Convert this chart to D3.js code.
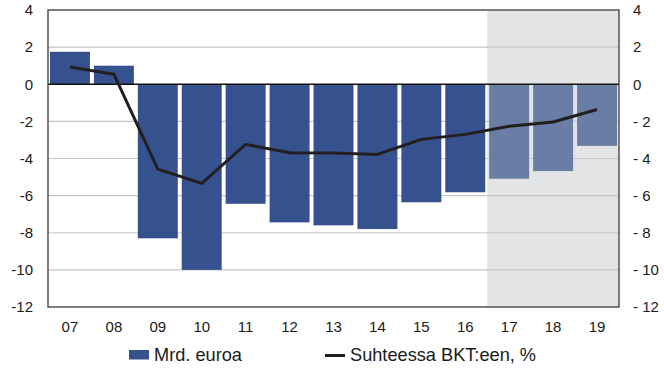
<!DOCTYPE html>
<html>
<head>
<meta charset="utf-8">
<script src="https://cdn.jsdelivr.net/npm/d3@7"></script>
<style>
  html, body { margin: 0; padding: 0; background: #fff; }
  svg { display: block; font-family: "Liberation Sans", Arial, sans-serif; }
</style>
</head>
<body>
<svg id="chart" width="664" height="368"></svg>
<script>
// Years shown on the x axis
const years = ["07", "08", "09", "10", "11", "12", "13", "14", "15", "16", "17", "18", "19"];
// Balance in billions of euros (bars)
const balanceBn = [1.75, 1.0, -8.3, -10.0, -6.44, -7.44, -7.6, -7.8, -6.36, -5.82, -5.09, -4.68, -3.32];
// Balance relative to GDP, % (line)
const balancePct = [0.93, 0.54, -4.57, -5.34, -3.24, -3.69, -3.71, -3.78, -2.97, -2.7, -2.26, -2.03, -1.36];
// First forecast year
const forecastFrom = "17";
// Axis ticks
const leftTicks = [4, 2, 0, -2, -4, -6, -8, -10, -12];
const rightTicks = [4, 2, 0, -2, -4, -6, -8, -10, -12];
// Legend texts
const legendLabels = ["Mrd. euroa", "Suhteessa BKT:een, %"];

const svg = d3.select("#chart");
const m = { left: 48, right: 619, top: 10, bottom: 307 };

const x = d3.scaleBand().domain(years).range([m.left, m.right]).paddingInner(0.09).paddingOuter(0.045);
const xc = d3.scaleBand().domain(years).range([m.left, m.right]);
const y = d3.scaleLinear().domain([-12, 4]).range([m.bottom, m.top]);
const yR = d3.scaleLinear().domain([-12, 4]).range([m.bottom, m.top]);

const navy = "#36528e";
const navyLight = "#6a7ea5";
const fIdx = years.indexOf(forecastFrom);
const fontFam = "'Liberation Sans', Arial, sans-serif";

// Forecast shading
svg.append("rect")
  .attr("x", xc(forecastFrom)).attr("y", m.top)
  .attr("width", m.right - xc(forecastFrom)).attr("height", m.bottom - m.top)
  .attr("fill", "#e3e4e6");

// Horizontal gridlines
svg.append("g").selectAll("line").data(leftTicks.filter(t => t !== 0 && t !== 4 && t !== -12))
  .join("line")
  .attr("x1", m.left).attr("x2", m.right)
  .attr("y1", d => y(d)).attr("y2", d => y(d))
  .attr("stroke", "#c6c6c6").attr("stroke-width", 1.2);

// Bars
svg.append("g").selectAll("rect").data(years)
  .join("rect")
  .attr("x", d => x(d))
  .attr("width", x.bandwidth())
  .attr("y", (d, i) => y(Math.max(0, balanceBn[i])))
  .attr("height", (d, i) => Math.abs(y(balanceBn[i]) - y(0)))
  .attr("fill", (d, i) => i >= fIdx ? navyLight : navy);

// Zero line
svg.append("line")
  .attr("x1", m.left).attr("x2", m.right)
  .attr("y1", y(0)).attr("y2", y(0))
  .attr("stroke", "#111").attr("stroke-width", 1.3);

// Line series (right axis)
const line = d3.line()
  .x((d, i) => xc(years[i]) + xc.bandwidth() / 2)
  .y(d => yR(d));
svg.append("path")
  .datum(balancePct)
  .attr("d", line)
  .attr("fill", "none")
  .attr("stroke", "#231f20")
  .attr("stroke-width", 3)
  .attr("stroke-linejoin", "round");

// Plot frame
svg.append("rect")
  .attr("x", m.left).attr("y", m.top)
  .attr("width", m.right - m.left).attr("height", m.bottom - m.top)
  .attr("fill", "none").attr("stroke", "#3a3a3a").attr("stroke-width", 1.3);

// Left axis
const leftAxis = d3.axisLeft(y).tickValues(leftTicks).tickSize(0).tickPadding(15)
  .tickFormat(d => String(d));
const gl = svg.append("g").attr("transform", `translate(${m.left},0)`).call(leftAxis);
gl.select(".domain").remove();
gl.selectAll("text").attr("font-size", 15).attr("fill", "#1a1a1a").attr("font-family", fontFam);

// Right axis
const rightAxis = d3.axisRight(yR).tickValues(rightTicks).tickSize(0).tickPadding(14)
  .tickFormat(d => d < 0 ? "- " + Math.abs(d) : String(d));
const gr = svg.append("g").attr("transform", `translate(${m.right},0)`).call(rightAxis);
gr.select(".domain").remove();
gr.selectAll("text").attr("font-size", 15).attr("fill", "#1a1a1a").attr("font-family", fontFam);

// Bottom axis
const bottomAxis = d3.axisBottom(xc).tickSize(0).tickPadding(14);
const gb = svg.append("g").attr("transform", `translate(0,${m.bottom})`).call(bottomAxis);
gb.select(".domain").remove();
gb.selectAll("text").attr("font-size", 15).attr("fill", "#1a1a1a").attr("font-family", fontFam);

// Legend
const lg = svg.append("g").attr("font-size", 18.2).attr("fill", "#1a1a1a").attr("font-family", fontFam);
lg.append("rect").attr("x", 129).attr("y", 350).attr("width", 20).attr("height", 9.5).attr("fill", navy);
lg.append("text").attr("x", 154).attr("y", 361).text(legendLabels[0]);
lg.append("line").attr("x1", 325).attr("x2", 345).attr("y1", 355.5).attr("y2", 355.5)
  .attr("stroke", "#231f20").attr("stroke-width", 3);
lg.append("text").attr("x", 350).attr("y", 361).text(legendLabels[1]);
</script>
</body>
</html>
